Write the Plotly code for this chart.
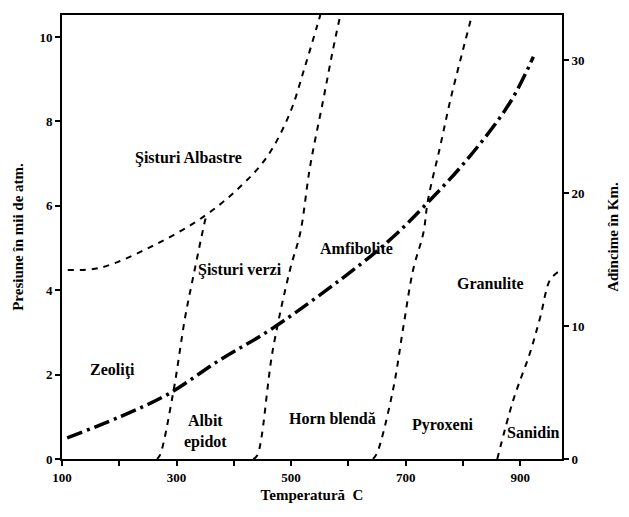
import plotly.graph_objects as go

# facies boundaries, temperature (C) vs pressure (thousands of atm)
blue_t = [110, 166, 254, 346, 411, 458, 498, 524, 545, 551]
blue_p = [4.48, 4.53, 5.02, 5.73, 6.45, 7.16, 8.20, 9.29, 10.24, 10.52]

green_t = [266, 271, 294, 315, 329, 350, 352]
green_p = [0.0, 0.09, 1.56, 3.36, 4.31, 5.66, 5.75]

amph_t = [434, 441, 468, 498, 516, 533, 556, 573, 586]
amph_p = [0.0, 0.09, 2.58, 4.48, 5.36, 6.92, 8.50, 9.69, 10.52]

gran_t = [643, 650, 678, 696, 713, 731, 739, 760, 778, 800, 816]
gran_p = [0.0, 0.14, 1.64, 3.13, 4.48, 5.36, 6.14, 7.39, 8.50, 9.69, 10.52]

san_t = [860, 888, 917, 935, 952, 966]
san_p = [0.0, 1.40, 2.51, 3.36, 4.24, 4.43]

# geothermal gradient
geo_t = [109, 201, 283, 376, 468, 620, 678, 731, 807, 882, 923]
geo_p = [0.50, 1.00, 1.52, 2.35, 3.10, 4.60, 5.26, 5.97, 7.09, 8.44, 9.53]

labels = ["Şisturi Albastre", "Şisturi verzi", "Amfibolite", "Granulite", "Zeoliţi",
          "Albit<br>epidot", "Horn blendă", "Pyroxeni", "Sanidin"]
label_t = [320, 411, 615, 848, 189, 350, 573, 766, 923]
label_p = [7.13, 4.48, 4.98, 4.17, 2.11, 0.66, 0.95, 0.80, 0.62]

x_ticks = [100, 200, 300, 400, 500, 600, 700, 800, 900]
x_text = ["100", "", "300", "", "500", "", "700", "", "900"]
p_ticks = [0, 2, 4, 6, 8, 10]
km_ticks = [0, 10, 20, 30]

FONT = "Liberation Serif"

fig = go.Figure()
dash = dict(color="black", width=2, dash="6px,6px")
for t, p in [(blue_t, blue_p), (green_t, green_p), (amph_t, amph_p),
             (gran_t, gran_p), (san_t, san_p)]:
    fig.add_trace(go.Scatter(x=t, y=p, mode="lines", line=dict(shape="spline", **dash),
                             hoverinfo="skip"))

fig.add_trace(go.Scatter(x=geo_t, y=geo_p, mode="lines",
                         line=dict(color="black", width=3.5, dash="16px,5px,3px,5px",
                                   shape="spline"),
                         hoverinfo="skip"))

# empty trace so the depth axis is drawn
fig.add_trace(go.Scatter(x=[None], y=[None], yaxis="y2", hoverinfo="skip"))

for txt, t, p in zip(labels, label_t, label_p):
    fig.add_annotation(x=t, y=p, text=txt, showarrow=False,
                       font=dict(family=FONT, size=16, color="black", weight="bold"))

axis_common = dict(ticks="outside", ticklen=5, tickwidth=1.5, tickcolor="black",
                   showline=True, linecolor="black", linewidth=2,
                   showgrid=False, zeroline=False, automargin=False,
                   tickfont=dict(size=13, weight="bold"))
title_font = dict(size=15, weight="bold")

# page body has an 8px margin, so the figure is a bit smaller than the window
fig.update_layout(
    width=621, height=509,
    margin=dict(l=54, r=67, t=7, b=58),
    paper_bgcolor="white", plot_bgcolor="white",
    showlegend=False,
    font=dict(family=FONT, size=13, color="black"),
    xaxis=dict(range=[100, 973], tickvals=x_ticks, ticktext=x_text, mirror=True,
               title=dict(text="Temperatură  C", font=title_font, standoff=6),
               **axis_common),
    yaxis=dict(range=[0, 10.52], tickvals=p_ticks,
               title=dict(text="Presiune în mii de atm.", font=title_font, standoff=12),
               **axis_common),
    yaxis2=dict(range=[0, 33.4], tickvals=km_ticks, overlaying="y", side="right",
                title=dict(text="Adîncime în Km.", font=title_font, standoff=24),
                **axis_common),
)

fig.write_html("out.html")
